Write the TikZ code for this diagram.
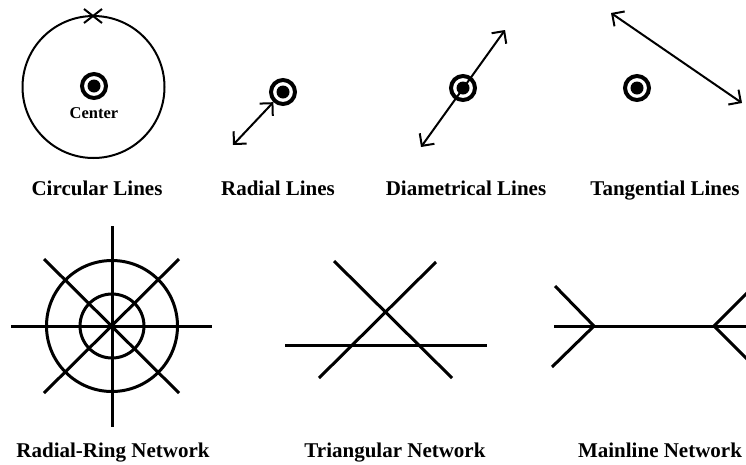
\documentclass[tikz,border=0pt]{standalone}
\usepackage{fontspec}
\setmainfont{Liberation Serif}
\usetikzlibrary{arrows.meta}
\begin{document}
\begin{tikzpicture}[x=1pt,y=-1pt,
  hub/.style={circle,draw,line width=4pt,minimum size=24pt,inner sep=0pt,
    path picture={\fill[black] (path picture bounding box.center) circle (6.5pt);}},
  lbl/.style={font=\bfseries\fontsize{21}{24}\selectfont,anchor=base},
  thinline/.style={line width=2pt},
  netline/.style={line width=3pt},
  dbl/.style={thinline,{Straight Barb[length=9pt,width=18pt,line width=2pt]}-{Straight Barb[length=9pt,width=18pt,line width=2pt]}}]
\useasboundingbox (0,0) rectangle (746,464);
% Circular lines
\coordinate (cc) at (93.5,87);
\draw[thinline] (cc) circle (71);
\coordinate (xa) at (84,9);
\coordinate (xb) at (102,23);
\coordinate (xc) at (102,9);
\coordinate (xd) at (84,23);
\draw[thinline] (xa) -- (xb);
\draw[thinline] (xc) -- (xd);
\node[hub] (h1) at (94,86) {};
\node[font=\bfseries\fontsize{16.5}{18}\selectfont] (cen) at (94,113) {Center};
\node[lbl] (l1) at (97,195) {Circular Lines};
% Radial lines
\node[hub] (h2) at (283,92) {};
\coordinate (r2e) at (233,145);
\draw[dbl] (h2) -- (r2e);
\node[lbl] (l2) at (278,195) {Radial Lines};
% Diametrical lines
\node[hub] (h3) at (463,88) {};
\coordinate (d3a) at (505,30);
\coordinate (d3b) at (421,147);
\draw[dbl] (d3b) -- (d3a);
\node[lbl] (l3) at (466,195) {Diametrical Lines};
% Tangential lines
\node[hub] (h4) at (637,88) {};
\coordinate (t4a) at (611,13);
\coordinate (t4b) at (742,103);
\draw[dbl] (t4a) -- (t4b);
\node[lbl] (l4) at (665,195) {Tangential Lines};
% Radial-ring network
\coordinate (rc) at (112,326);
\coordinate (rn) at (112,226);
\coordinate (rs) at (112,427);
\coordinate (rw) at (11,326);
\coordinate (re) at (212,326);
\coordinate (rnw) at (44,259);
\coordinate (rse) at (179,393);
\coordinate (rne) at (179,259);
\coordinate (rsw) at (44,393);
\draw[netline] (rn) -- (rs);
\draw[netline] (rw) -- (re);
\draw[netline] (rnw) -- (rse);
\draw[netline] (rne) -- (rsw);
\draw[netline] (rc) circle (65.5);
\draw[netline] (rc) circle (32);
\node[lbl] (l5) at (113,457) {Radial-Ring Network};
% Triangular network
\coordinate (ta) at (285,345);
\coordinate (tb) at (487,345);
\coordinate (tc) at (334,261);
\coordinate (td) at (452,378);
\coordinate (te) at (436,262);
\coordinate (tf) at (319,378);
\draw[netline] (ta) -- (tb);
\draw[netline] (tc) -- (td);
\draw[netline] (te) -- (tf);
\node[lbl] (l6) at (395,457) {Triangular Network};
% Mainline network
\coordinate (ma) at (554,326);
\coordinate (mj1) at (594,326);
\coordinate (mj2) at (714,326);
\coordinate (mb) at (760,326);
\coordinate (m1u) at (555,286);
\coordinate (m1d) at (552,367);
\coordinate (m2u) at (754,286);
\coordinate (m2d) at (754,366);
\draw[netline] (ma) -- (mb);
\draw[netline] (m1u) -- (mj1) -- (m1d);
\draw[netline] (m2u) -- (mj2) -- (m2d);
\node[lbl] (l7) at (660,457) {Mainline Network};
\end{tikzpicture}
\end{document}
